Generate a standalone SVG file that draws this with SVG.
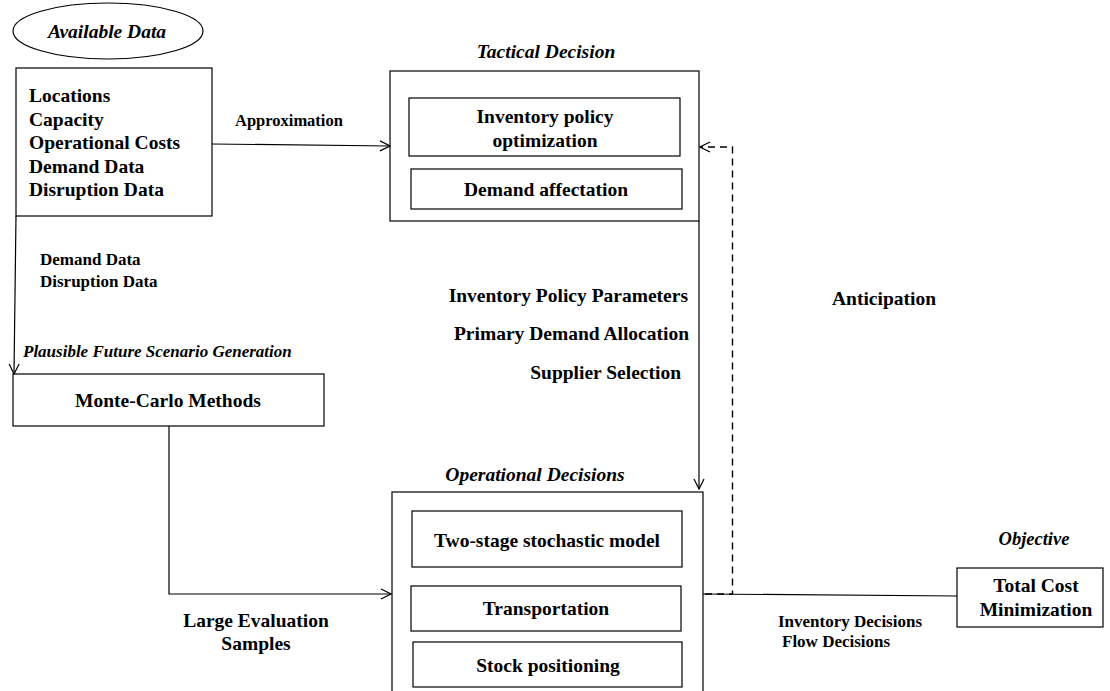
<svg xmlns="http://www.w3.org/2000/svg" width="1110" height="691" viewBox="0 0 1110 691">
<style>
text{font-family:"Liberation Serif","Times New Roman",serif;font-weight:bold;fill:#000}
.t{font-size:19.5px}
.s{font-size:17px}
.a{font-size:16.5px}
.h{font-size:19.5px;font-style:italic}
.m{text-anchor:middle}
.e{text-anchor:end}
.box{fill:#fff;stroke:#000;stroke-width:1.2}
.ln{fill:none;stroke:#000;stroke-width:1.2}
.dash{fill:none;stroke:#000;stroke-width:1.4;stroke-dasharray:7,5}
</style>
<defs>
<marker id="arr" viewBox="0 0 12 12" refX="11" refY="6" markerWidth="12" markerHeight="12" markerUnits="userSpaceOnUse" orient="auto">
<path d="M1,1 L11,6 L1,11" fill="none" stroke="#000" stroke-width="1.2"/>
</marker>
</defs>
<rect width="1110" height="691" fill="#fff"/>

<g id="available-data">
<ellipse cx="108" cy="31" rx="95" ry="28" class="box"/>
<text class="h m" x="107" y="38">Available Data</text>
</g>

<g id="data-box">
<rect x="16" y="68" width="196" height="148" class="box"/>
<text class="t" x="29" y="102">Locations</text>
<text class="t" x="29" y="126">Capacity</text>
<text class="t" x="29" y="149">Operational Costs</text>
<text class="t" x="29" y="173">Demand Data</text>
<text class="t" x="29" y="196">Disruption Data</text>
</g>

<g id="tactical">
<text class="h m" x="546" y="58">Tactical Decision</text>
<rect x="390" y="71" width="309" height="150" class="box"/>
<rect x="409" y="98" width="271" height="58" class="box"/>
<text class="t m" x="545" y="123">Inventory policy</text>
<text class="t m" x="545" y="147">optimization</text>
<rect x="411" y="169" width="271" height="40" class="box"/>
<text class="t m" x="546" y="196">Demand affectation</text>
</g>

<g id="monte-carlo">
<text class="h" x="23" y="357" style="font-size:17px">Plausible Future Scenario Generation</text>
<rect x="13" y="374" width="311" height="52" class="box"/>
<text class="t m" x="168" y="407">Monte-Carlo Methods</text>
</g>

<g id="operational">
<text class="h m" x="535" y="481">Operational Decisions</text>
<rect x="392" y="492" width="311" height="210" class="box"/>
<rect x="412" y="511" width="270" height="56" class="box"/>
<text class="t m" x="547" y="547">Two-stage stochastic model</text>
<rect x="411" y="586" width="270" height="45" class="box"/>
<text class="t m" x="546" y="615">Transportation</text>
<rect x="413" y="642" width="269" height="45" class="box"/>
<text class="t m" x="548" y="672">Stock positioning</text>
</g>

<g id="objective">
<text class="h m" x="1034" y="545" style="font-size:18.5px">Objective</text>
<rect x="957" y="568" width="146" height="59" class="box"/>
<text class="t m" x="1036" y="592">Total Cost</text>
<text class="t m" x="1036" y="616">Minimization</text>
</g>

<g id="connectors">
<path d="M212,144 L390,146" class="ln" marker-end="url(#arr)"/>
<path d="M16,216 L14,374" class="ln" marker-end="url(#arr)"/>
<path d="M169,426 L169,594 L391,594" class="ln" marker-end="url(#arr)"/>
<path d="M699,221 L699,489" class="ln" marker-end="url(#arr)"/>
<path d="M703,594 L957,596" class="ln"/>
<path d="M705,594 L732.5,594 L732.5,147 L700,147" class="dash" marker-end="url(#arr)"/>
</g>

<g id="labels">
<text class="a" x="235" y="126">Approximation</text>
<text class="s" x="40" y="265">Demand Data</text>
<text class="s" x="40" y="287">Disruption Data</text>
<text class="t e" x="688" y="302">Inventory Policy Parameters</text>
<text class="t e" x="689" y="340">Primary Demand Allocation</text>
<text class="t e" x="681" y="379">Supplier Selection</text>
<text class="t" x="832" y="305">Anticipation</text>
<text class="t m" x="256" y="627">Large Evaluation</text>
<text class="t m" x="256" y="650">Samples</text>
<text class="s" x="778" y="627">Inventory Decisions</text>
<text class="s" x="782" y="647">Flow Decisions</text>
</g>
</svg>
